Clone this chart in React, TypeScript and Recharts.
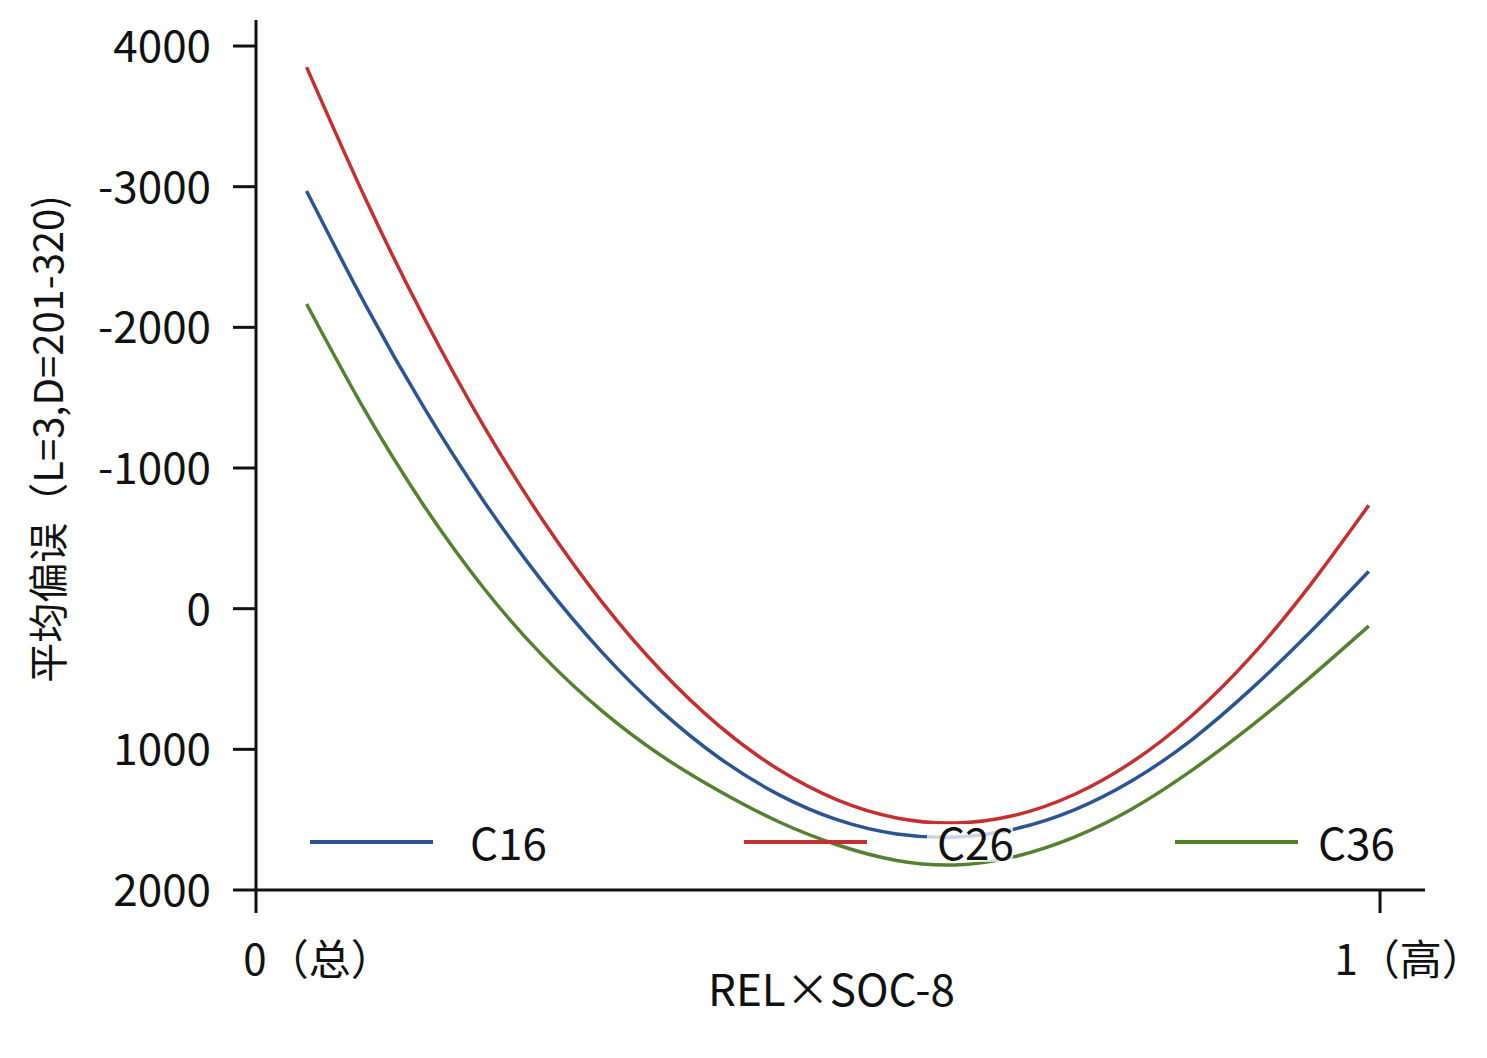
import React from "react";
import { LineChart, Line, XAxis, YAxis, Legend, Label } from "recharts";

const FONT = '"Noto Sans CJK SC", "Noto Sans", sans-serif';

// evenly spaced sample positions along REL×SOC-8 (0 = 总, 1 = 高)
const X_POS = [
  0.045, 0.0975, 0.15, 0.2025, 0.255, 0.3075, 0.36, 0.4125, 0.465, 0.5175,
  0.57, 0.6225, 0.675, 0.7275, 0.78, 0.8325, 0.885, 0.9375, 0.99,
];

// mean bias per class
const C16 = [
  -2969, -2158, -1422, -766, -190, 307, 725, 1063, 1322, 1502,
  1602, 1623, 1566, 1432, 1220, 932, 574, 170, -265,
];
const C26 = [
  -3850, -2912, -2061, -1300, -630, -50, 438, 837, 1144, 1361,
  1488, 1524, 1469, 1323, 1087, 761, 343, -164, -735,
];
const C36 = [
  -2166, -1400, -725, -147, 334, 725, 1042, 1298, 1515, 1680,
  1790, 1822, 1763, 1626, 1421, 1150, 837, 490, 123,
];

const X_TICKS = [0, 1];
const X_TICK_LABELS = ["0（总）", "1（高）"];
const Y_TICKS = [-4000, -3000, -2000, -1000, 0, 1000, 2000];
const Y_TICK_LABELS = ["4000", "-3000", "-2000", "-1000", "0", "1000", "2000"];

const SERIES = [
  { name: "C16", values: C16, color: "#2c5493" },
  { name: "C26", values: C26, color: "#c4302f" },
  { name: "C36", values: C36, color: "#558030" },
];

const toPoints = (values: number[]) => X_POS.map((x, i) => ({ x, y: values[i] }));

const XTick = (props: any) => {
  const { x, y, payload, index } = props;
  const label = X_TICK_LABELS[X_TICKS.indexOf(payload.value)];
  const dx = index === 0 ? 62 : 29;
  return (
    <text x={x + dx} y={y + 60} textAnchor="middle" fontSize={42} fontFamily={FONT} fill="#111">
      {label}
    </text>
  );
};

const YTick = (props: any) => {
  const { x, y, payload } = props;
  const label = Y_TICK_LABELS[Y_TICKS.indexOf(payload.value)];
  return (
    <text x={x} y={y} dy="0.36em" textAnchor="end" fontSize={44} fontFamily={FONT} fill="#111">
      {label}
    </text>
  );
};

const YTitle = (props: any) => {
  const { viewBox } = props;
  const cx = 46;
  const cy = viewBox.y + viewBox.height / 2 - 16;
  return (
    <text
      x={cx}
      y={cy}
      transform={`rotate(-90 ${cx} ${cy})`}
      textAnchor="middle"
      dominantBaseline="central"
      fontSize={40}
      fontFamily={FONT}
      fill="#111"
    >
      平均偏误（L=3,D=201-320)
    </text>
  );
};

// legend sits inside the plot, across the bottom
const LEGEND_LINE_X = [310, 744, 1175];
const LEGEND_TEXT_X = [470, 937, 1318];

const LegendRow = (props: any) => {
  const { payload } = props;
  return (
    <svg width={1487} height={80} style={{ display: "block", overflow: "visible" }}>
      {(payload || []).map((p: any, i: number) => (
        <g key={p.value}>
          <line x1={LEGEND_LINE_X[i]} x2={LEGEND_LINE_X[i] + 123} y1={30} y2={30} stroke={p.color} strokeWidth={4} />
          <rect x={LEGEND_TEXT_X[i] - 10} y={12} width={86} height={38} fill="#fff" fillOpacity={0.75} />
          <text x={LEGEND_TEXT_X[i]} y={48} fontSize={44} fontFamily={FONT} fill="#111">
            {p.value}
          </text>
        </g>
      ))}
    </svg>
  );
};

export default function App() {
  return (
    <div style={{ position: "absolute", left: 0, top: 0, width: 1487, height: 1058, background: "#fff" }}>
      <LineChart width={1487} height={1058} margin={{ top: 20, right: 62, left: 136, bottom: 88 }}>
        <XAxis
          dataKey="x"
          type="number"
          domain={[0, 1.04]}
          ticks={X_TICKS}
          tick={<XTick />}
          tickSize={23}
          axisLine={{ stroke: "#111", strokeWidth: 3 }}
          tickLine={{ stroke: "#111", strokeWidth: 3 }}
          height={80}
          allowDataOverflow
        >
          <Label value="REL×SOC-8" position="bottom" offset={5} dx={-9} fontSize={44} fontFamily={FONT} fill="#111" />
        </XAxis>
        <YAxis
          type="number"
          reversed
          domain={[-4185, 2000]}
          ticks={Y_TICKS}
          tick={<YTick />}
          tickSize={23}
          tickMargin={22}
          width={120}
          axisLine={{ stroke: "#111", strokeWidth: 3 }}
          tickLine={{ stroke: "#111", strokeWidth: 3 }}
          allowDataOverflow
        >
          <Label content={<YTitle />} />
        </YAxis>
        {SERIES.map((s) => (
          <Line
            key={s.name}
            data={toPoints(s.values)}
            dataKey="y"
            name={s.name}
            type="natural"
            stroke={s.color}
            strokeWidth={3.5}
            dot={false}
            isAnimationActive={false}
          />
        ))}
        <Legend
          verticalAlign="middle"
          content={<LegendRow />}
          wrapperStyle={{ position: "absolute", left: 0, top: 812, width: 1487, height: 80 }}
        />
      </LineChart>
    </div>
  );
}
